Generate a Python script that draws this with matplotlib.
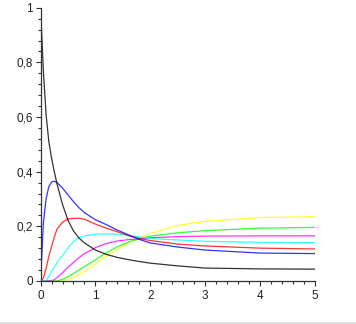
import numpy as np
import matplotlib
matplotlib.use('Agg')
import matplotlib.pyplot as plt
from matplotlib.ticker import MultipleLocator, FuncFormatter
from matplotlib.lines import Line2D

# sample points
x = [0, 0.05, 0.1, 0.15, 0.2, 0.25, 0.3, 0.4, 0.5, 0.6, 0.7, 0.8, 1.0, 1.2, 1.4, 1.6, 1.8, 2.0, 2.5, 3.0, 4.0, 5.0]

black = [1.0, 0.77, 0.61, 0.51, 0.45, 0.40, 0.355, 0.28, 0.222, 0.183, 0.157, 0.139, 0.113, 0.097, 0.086, 0.078, 0.071, 0.065, 0.055, 0.047, 0.044, 0.043]
blue = [0.0, 0.21, 0.3, 0.345, 0.362, 0.365, 0.36, 0.34, 0.315, 0.29, 0.268, 0.25, 0.224, 0.206, 0.186, 0.169, 0.152, 0.139, 0.124, 0.113, 0.102, 0.1]
red = [0.0, 0.01, 0.045, 0.09, 0.125, 0.16, 0.19, 0.215, 0.227, 0.229, 0.229, 0.226, 0.208, 0.193, 0.18, 0.166, 0.155, 0.148, 0.135, 0.128, 0.12, 0.117]
cyan = [0.0, 0.0, 0.0, 0.015, 0.035, 0.05, 0.068, 0.093, 0.12, 0.145, 0.158, 0.165, 0.171, 0.172, 0.171, 0.167, 0.161, 0.155, 0.15, 0.145, 0.141, 0.14]
magenta = [0.0, 0.0, 0.0, 0.0, 0.0, 0.005, 0.012, 0.03, 0.05, 0.068, 0.085, 0.1, 0.122, 0.137, 0.146, 0.151, 0.154, 0.158, 0.162, 0.164, 0.165, 0.165]
green = [0.0, 0.0, 0.0, 0.0, 0.0, 0.0, 0.0, 0.006, 0.015, 0.027, 0.04, 0.052, 0.077, 0.103, 0.125, 0.142, 0.154, 0.164, 0.176, 0.184, 0.193, 0.196]
yellow = [0.0, 0.0, 0.0, 0.0, 0.0, 0.0, 0.0, 0.0, 0.005, 0.012, 0.022, 0.033, 0.062, 0.09, 0.115, 0.14, 0.158, 0.174, 0.203, 0.218, 0.232, 0.235]

series = [(yellow, '#ffff00'), (green, '#00ff00'), (magenta, '#ff00ff'), (cyan, '#00ffff'),
          (red, '#ff0000'), (blue, '#0000ff'), (black, '#000000')]

plt.rcParams['font.family'] = ['Liberation Sans', 'DejaVu Sans']

fig = plt.figure(figsize=(3.56, 3.24), dpi=100)
ax = fig.add_axes([0.114, 0.133, 0.77, 0.843])

for ys, c in series:
    ax.plot(x, ys, color=c, lw=0.9, alpha=0.8)

ax.set_xlim(0, 5)
ax.set_ylim(0, 1)
ax.spines['top'].set_visible(False)
ax.spines['right'].set_visible(False)
for s in ['left', 'bottom']:
    ax.spines[s].set_linewidth(0.9)
    ax.spines[s].set_color('#333333')

ax.xaxis.set_major_locator(MultipleLocator(1))
ax.xaxis.set_minor_locator(MultipleLocator(0.2))
ax.yaxis.set_major_locator(MultipleLocator(0.2))
ax.yaxis.set_minor_locator(MultipleLocator(0.04))

def fmt(v, pos):
    s = ('%.1f' % v).rstrip('0').rstrip('.')
    return s.replace('.', ',')

ax.xaxis.set_major_formatter(FuncFormatter(fmt))
ax.yaxis.set_major_formatter(FuncFormatter(fmt))
ax.tick_params(which='major', length=3.5, width=0.8, color='#333333', labelsize=8.5,
               labelcolor='#222222', pad=2)
ax.tick_params(which='minor', length=2.5, width=0.8, color='#333333')
ax.tick_params(axis='x', pad=3)

fig.add_artist(Line2D([0, 1], [0.004, 0.004], color='#d8d8d8', lw=1.2))

fig.savefig('out.png', dpi=100)
